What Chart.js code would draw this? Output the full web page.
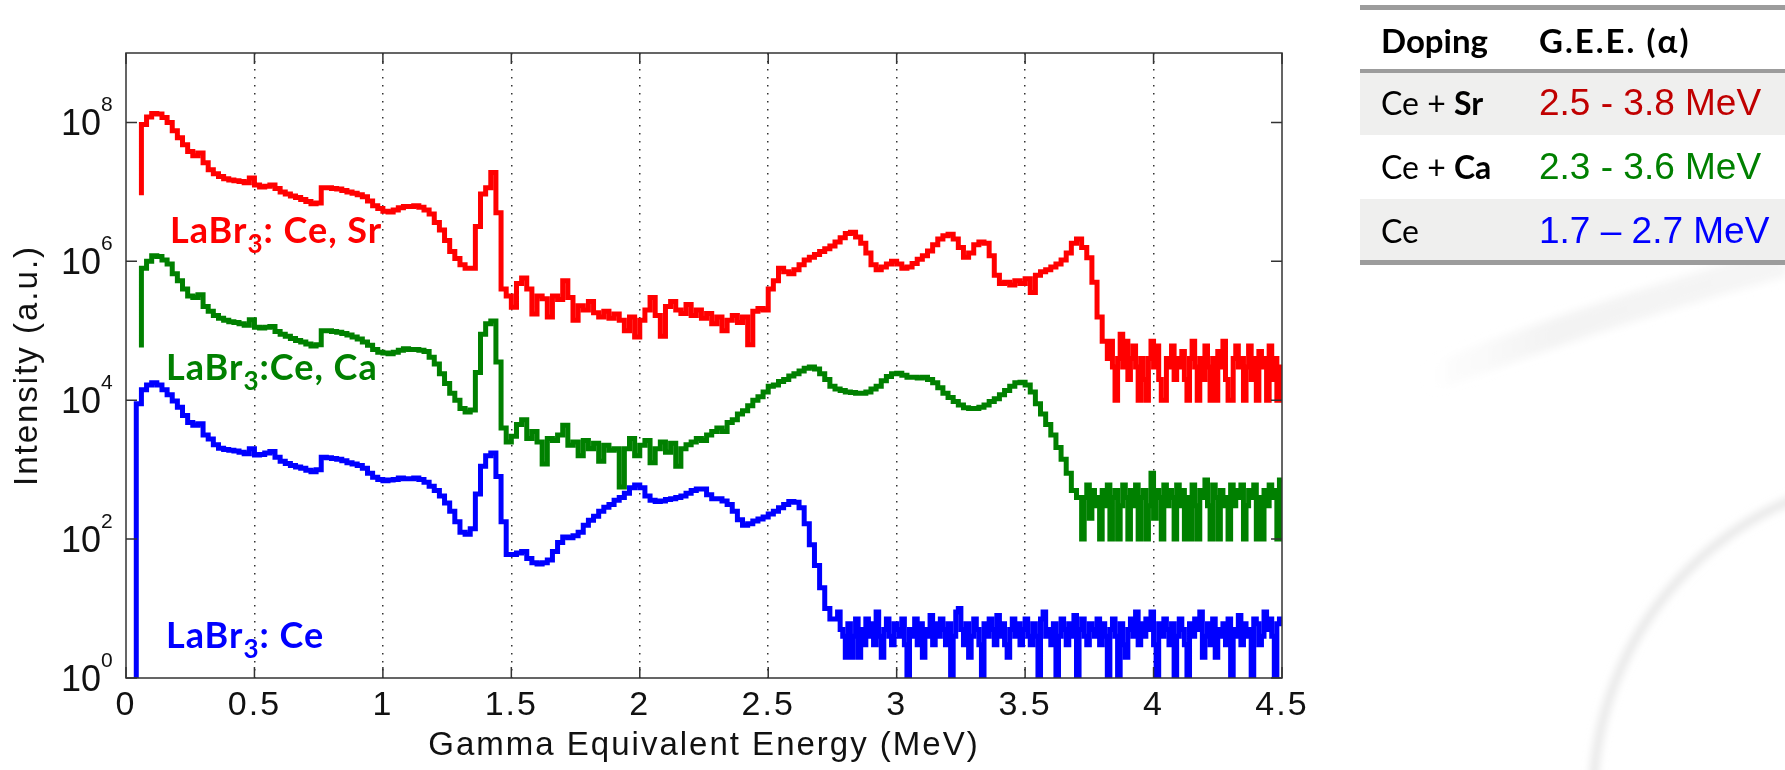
<!DOCTYPE html>
<html>
<head>
<meta charset="utf-8">
<script src="https://cdn.jsdelivr.net/npm/chart.js@4.4.1/dist/chart.umd.min.js"></script>
<style>
  html, body { margin: 0; padding: 0; background: #fff; }
  #wrap { position: relative; width: 1785px; height: 770px; overflow: hidden; }
  #deco { position: absolute; left: 0; top: 0; z-index: 0; }
  #box { position: absolute; left: 0; top: 0; width: 1785px; height: 770px; z-index: 1; }
  .lbl { position: absolute; z-index: 2; white-space: nowrap; font-family: Lato, "Open Sans", sans-serif;
         font-weight: 700; font-size: 36px; line-height: 36px; letter-spacing: 1px; }
  .lbl .s { font-size: 26px; position: relative; top: 10px; }
  #tbl { position: absolute; left: 1360px; top: 0; width: 425px; height: 270px; z-index: 2; }
  #tbl div { position: absolute; white-space: nowrap; }
  .rule { left: 0; width: 425px; background: #9c9c9c; }
  .band { left: 0; width: 425px; background: #efefee; }
  .hd { font-family: Lato, sans-serif; font-weight: 700; font-size: 33px; line-height: 33px; color: #000; }
  .c1 { left: 21px; font-family: Lato, sans-serif; font-size: 32px; line-height: 32px; color: #000; }
  .c1 b { font-weight: 700; }
  .c2 { left: 179px; font-family: "Liberation Sans", Arial, sans-serif; font-size: 37px; line-height: 37px; }
</style>
</head>
<body>
<div id="wrap">
  <svg id="deco" width="1785" height="770">
    <defs>
      <filter id="bl" x="-20%" y="-20%" width="140%" height="140%"><feGaussianBlur stdDeviation="4"/></filter>
      <linearGradient id="fade" x1="0" x2="1" y1="0" y2="0">
        <stop offset="0" stop-color="#f3f3f3" stop-opacity="0"/>
        <stop offset="0.35" stop-color="#f3f3f3" stop-opacity="1"/>
        <stop offset="1" stop-color="#f5f5f5" stop-opacity="1"/>
      </linearGradient>
    </defs>
    <circle cx="1919" cy="800" r="326" fill="none" stroke="#e2e2e2" stroke-width="7" filter="url(#bl)"/>
    <path d="M1425 380 Q1600 312 1785 262" stroke="url(#fade)" stroke-width="28" fill="none" filter="url(#bl)"/>
  </svg>
  <canvas id="box"></canvas>

  <div class="lbl" style="left:170px; top:211px; color:#ff0000">LaBr<span class="s">3</span>: Ce, Sr</div>
  <div class="lbl" style="left:166px; top:348px; color:#008000">LaBr<span class="s">3</span>:Ce, Ca</div>
  <div class="lbl" style="left:166px; top:616px; color:#0000ff">LaBr<span class="s">3</span>: Ce</div>

  <div id="tbl">
    <div class="rule" style="top:5px; height:5px"></div>
    <div class="hd" style="left:21px; top:24px">Doping</div>
    <div class="hd" style="left:179px; top:24px; letter-spacing:2px">G.E.E. (α)</div>
    <div class="rule" style="top:69px; height:4px"></div>
    <div class="band" style="top:73px; height:62px"></div>
    <div class="band" style="top:199px; height:61px"></div>
    <div class="rule" style="top:260px; height:5px"></div>
    <div class="c1" style="top:87px">Ce + <b>Sr</b></div>
    <div class="c2" style="top:84px; color:#c00000">2.5 - 3.8 MeV</div>
    <div class="c1" style="top:151px">Ce + <b>Ca</b></div>
    <div class="c2" style="top:148px; color:#008000">2.3 - 3.6 MeV</div>
    <div class="c1" style="top:215px">Ce</div>
    <div class="c2" style="top:212px; color:#0000ff">1.7 – 2.7 MeV</div>
  </div>
</div>

<script>
// log10 of intensity.
// "main" arrays: 0.02 MeV bins starting at 0 MeV (null = no data)
// "tail" arrays: 0.01 MeV bins continuing right after the last main bin up to 4.5 MeV
const logSr = [
  null, null, null, 6.95, 7.97, 8.08, 8.13, 8.12, 8.07, 8.00,   // 0.00
  7.88, 7.78, 7.68, 7.58, 7.52, 7.56, 7.42, 7.32, 7.26, 7.22,   // 0.20
  7.19, 7.17, 7.16, 7.15, 7.13, 7.20, 7.10, 7.07, 7.08, 7.10,   // 0.40
  7.05, 7.00, 6.97, 6.94, 6.92, 6.89, 6.86, 6.83, 6.84, 7.06,   // 0.60
  7.06, 7.05, 7.04, 7.02, 7.00, 6.98, 6.96, 6.93, 6.87, 6.80,   // 0.80
  6.76, 6.72, 6.71, 6.74, 6.77, 6.79, 6.79, 6.80, 6.78, 6.74,   // 1.00
  6.68, 6.56, 6.45, 6.30, 6.14, 6.04, 5.95, 5.90, 5.90, 6.50,   // 1.20
  6.97, 7.06, 7.28, 6.70, 5.60, 5.50, 5.34, 5.68, 5.76, 5.60,   // 1.40
  5.24, 5.50, 5.46, 5.20, 5.50, 5.45, 5.72, 5.48, 5.15, 5.36,   // 1.60
  5.30, 5.42, 5.26, 5.20, 5.28, 5.18, 5.24, 5.15, 5.00, 5.20,   // 1.80
  4.91, 5.15, 5.30, 5.48, 5.22, 4.92, 5.35, 5.42, 5.30, 5.25,   // 2.00
  5.38, 5.22, 5.30, 5.18, 5.25, 5.10, 5.20, 5.00, 5.15, 5.22,   // 2.20
  5.12, 5.20, 4.80, 5.28, 5.32, 5.30, 5.60, 5.72, 5.90, 5.85,   // 2.40
  5.82, 5.88, 5.95, 6.02, 6.06, 6.10, 6.14, 6.18, 6.22, 6.28,   // 2.60
  6.34, 6.40, 6.42, 6.35, 6.26, 6.12, 5.95, 5.88, 5.92, 5.96,   // 2.80
  6.00, 5.96, 5.90, 5.92, 5.97, 6.03, 6.08, 6.15, 6.24, 6.32,   // 3.00
  6.37, 6.39, 6.32, 6.20, 6.06, 6.12, 6.24, 6.28, 6.26, 6.08,   // 3.20
  5.80, 5.68, 5.70, 5.66, 5.72, 5.68, 5.75, 5.55, 5.80, 5.85,   // 3.40
  5.88, 5.92, 5.96, 6.02, 6.12, 6.26, 6.32, 6.20, 6.05, 5.70,   // 3.60
  5.20, 4.85                                                    // 3.80
];
const tailSr = [
  4.60, 4.85, 4.48, 4.00, 4.60, 4.95, 4.48, 4.85, 4.30, 4.60,   // 3.83
  4.78, 4.48, 4.00, 4.60, 4.30, 4.00, 4.60, 4.85, 4.48, 4.78,   // 3.93
  4.30, 4.00, 4.00, 4.60, 4.48, 4.78, 4.30, 4.60, 4.48, 4.70,   // 4.03
  4.30, 4.00, 4.60, 4.85, 4.48, 4.00, 4.60, 4.30, 4.78, 4.48,   // 4.13
  4.00, 4.60, 4.00, 4.70, 4.48, 4.85, 4.30, 4.00, 4.00, 4.60,   // 4.23
  4.78, 4.48, 4.60, 4.00, 4.48, 4.78, 4.30, 4.60, 4.00, 4.70,   // 4.33
  4.48, 4.60, 4.00, 4.78, 4.30, 4.60, 4.00, 4.48                // 4.43
];

const logCa = [
  null, null, null, 4.76, 5.90, 6.00, 6.08, 6.07, 6.02, 5.96,   // 0.00
  5.82, 5.72, 5.60, 5.50, 5.48, 5.52, 5.35, 5.28, 5.22, 5.18,   // 0.20
  5.15, 5.13, 5.12, 5.10, 5.08, 5.16, 5.05, 5.04, 5.05, 5.06,   // 0.40
  4.99, 4.95, 4.92, 4.89, 4.86, 4.84, 4.81, 4.78, 4.80, 5.00,   // 0.60
  5.00, 4.99, 4.98, 4.96, 4.94, 4.91, 4.88, 4.84, 4.79, 4.73,   // 0.80
  4.69, 4.68, 4.67, 4.69, 4.72, 4.74, 4.73, 4.73, 4.72, 4.70,   // 1.00
  4.62, 4.52, 4.38, 4.24, 4.10, 4.00, 3.88, 3.83, 3.86, 4.40,   // 1.20
  4.95, 5.10, 5.14, 4.55, 3.60, 3.40, 3.48, 3.65, 3.72, 3.45,   // 1.40
  3.55, 3.40, 3.08, 3.45, 3.42, 3.50, 3.64, 3.35, 3.40, 3.20,   // 1.60
  3.42, 3.30, 3.38, 3.12, 3.35, 3.28, 3.30, 2.75, 3.30, 3.45,   // 1.80
  3.20, 3.35, 3.42, 3.10, 3.30, 3.40, 3.25, 3.38, 3.05, 3.30,   // 2.00
  3.36, 3.40, 3.45, 3.42, 3.50, 3.55, 3.60, 3.55, 3.68, 3.72,   // 2.20
  3.80, 3.85, 3.92, 4.00, 4.05, 4.12, 4.20, 4.22, 4.27, 4.30,   // 2.40
  4.35, 4.38, 4.42, 4.46, 4.48, 4.45, 4.38, 4.30, 4.20, 4.16,   // 2.60
  4.14, 4.12, 4.11, 4.10, 4.10, 4.12, 4.16, 4.20, 4.28, 4.34,   // 2.80
  4.38, 4.39, 4.36, 4.33, 4.33, 4.32, 4.33, 4.30, 4.25, 4.18,   // 3.00
  4.10, 4.04, 3.98, 3.93, 3.89, 3.88, 3.88, 3.90, 3.93, 3.98,   // 3.20
  4.02, 4.08, 4.14, 4.20, 4.25, 4.26, 4.22, 4.12, 3.95, 3.80,   // 3.40
  3.65, 3.50, 3.32, 3.15, 2.95, 2.70, 2.60                      // 3.60
];
const tailCa = [
  2.00, 2.60, 2.78, 2.30, 2.70, 2.48, 2.60, 2.00, 2.70, 2.48,   // 3.73
  2.78, 2.00, 2.60, 2.70, 2.00, 2.48, 2.78, 2.60, 2.00, 2.70,   // 3.83
  2.48, 2.78, 2.00, 2.60, 2.70, 2.00, 2.48, 2.95, 2.30, 2.70,   // 3.93
  2.60, 2.00, 2.78, 2.48, 2.70, 2.60, 2.00, 2.78, 2.48, 2.70,   // 4.03
  2.00, 2.60, 2.00, 2.78, 2.48, 2.00, 2.70, 2.60, 2.85, 2.48,   // 4.13
  2.00, 2.78, 2.60, 2.00, 2.70, 2.48, 2.60, 2.00, 2.78, 2.48,   // 4.23
  2.70, 2.60, 2.78, 2.00, 2.48, 2.70, 2.60, 2.78, 2.00, 2.60,   // 4.33
  2.00, 2.70, 2.48, 2.78, 2.60, 2.70, 2.00, 2.85                // 4.43
];

const logCe = [
  null, null, -1, 3.95, 4.15, 4.22, 4.25, 4.22, 4.15, 4.08,     // 0.00
  3.99, 3.90, 3.78, 3.68, 3.64, 3.66, 3.50, 3.44, 3.36, 3.31,   // 0.20
  3.29, 3.28, 3.27, 3.25, 3.23, 3.30, 3.21, 3.22, 3.24, 3.26,   // 0.40
  3.18, 3.12, 3.09, 3.06, 3.04, 3.02, 2.99, 2.97, 3.00, 3.18,   // 0.60
  3.17, 3.16, 3.15, 3.13, 3.10, 3.08, 3.06, 3.02, 2.95, 2.89,   // 0.80
  2.86, 2.84, 2.85, 2.86, 2.88, 2.87, 2.87, 2.88, 2.86, 2.82,   // 1.00
  2.76, 2.70, 2.62, 2.52, 2.40, 2.25, 2.10, 2.07, 2.15, 2.65,   // 1.20
  3.05, 3.20, 3.24, 2.90, 2.25, 1.78, 1.78, 1.80, 1.82, 1.72,   // 1.40
  1.66, 1.64, 1.66, 1.70, 1.82, 1.95, 2.03, 2.02, 2.05, 2.10,   // 1.60
  2.20, 2.27, 2.33, 2.40, 2.46, 2.50, 2.56, 2.60, 2.66, 2.74,   // 1.80
  2.78, 2.74, 2.62, 2.56, 2.54, 2.55, 2.57, 2.58, 2.60, 2.62,   // 2.00
  2.66, 2.70, 2.72, 2.72, 2.64, 2.58, 2.58, 2.55, 2.50, 2.40,   // 2.20
  2.28, 2.20, 2.22, 2.26, 2.29, 2.32, 2.36, 2.40, 2.45, 2.50,   // 2.40
  2.54, 2.53, 2.45, 2.22, 1.92, 1.62, 1.30, 1.00, 0.85          // 2.60
];
const tailCe = [
  0.85, 0.95, 0.70, 0.60, 0.30, 0.78, 0.30, 0.60, 0.85, 0.30,   // 2.77
  0.70, 0.48, 0.85, 0.60, 0.78, 0.48, 0.95, 0.60, 0.30, 0.70,   // 2.87
  0.85, 0.60, 0.48, 0.78, 0.70, 0.60, 0.85, 0.48, 0.00, 0.70,   // 2.97
  0.60, 0.85, 0.48, 0.78, 0.30, 0.70, 0.60, 0.90, 0.48, 0.78,   // 3.07
  0.60, 0.85, 0.70, 0.48, 0.78, 0.00, 0.60, 0.95, 1.00, 0.70,   // 3.17
  0.48, 0.78, 0.30, 0.60, 0.85, 0.70, 0.48, 0.00, 0.78, 0.60,   // 3.27
  0.85, 0.70, 0.48, 0.90, 0.60, 0.78, 0.48, 0.30, 0.70, 0.85,   // 3.37
  0.60, 0.78, 0.48, 0.70, 0.85, 0.60, 0.48, 0.78, 0.60, 0.00,   // 3.47
  0.85, 0.95, 0.60, 0.70, 0.48, 0.78, 0.00, 0.60, 0.85, 0.70,   // 3.57
  0.48, 0.78, 0.60, 0.90, 0.00, 0.70, 0.85, 0.60, 0.48, 0.78,   // 3.67
  0.70, 0.60, 0.85, 0.48, 0.78, 0.60, 0.00, 0.70, 0.85, 0.60,   // 3.77
  0.00, 0.78, 0.48, 0.30, 0.70, 0.85, 0.60, 0.95, 0.48, 0.78,   // 3.87
  0.60, 0.85, 0.70, 0.95, 0.48, 0.00, 0.78, 0.60, 0.85, 0.70,   // 3.97
  0.48, 0.78, 0.00, 0.60, 0.85, 0.70, 0.48, 0.00, 0.78, 0.60,   // 4.07
  0.85, 0.70, 0.95, 0.30, 0.60, 0.78, 0.48, 0.85, 0.30, 0.70,   // 4.17
  0.60, 0.78, 0.48, 0.85, 0.00, 0.70, 0.60, 0.90, 0.48, 0.78,   // 4.27
  0.60, 0.70, 0.00, 0.85, 0.78, 0.48, 0.60, 0.95, 0.70, 0.85,   // 4.37
  0.60, 0.00, 0.78, 0.85                                        // 4.47
];

const seriesNames = ['LaBr3: Ce, Sr', 'LaBr3:Ce, Ca', 'LaBr3: Ce'];
const seriesColors = ['#ff0000', '#008000', '#0000ff'];

const xTickValues = [0, 0.5, 1, 1.5, 2, 2.5, 3, 3.5, 4, 4.5];
const xTickLabels = ['0', '0.5', '1', '1.5', '2', '2.5', '3', '3.5', '4', '4.5'];
const yTickPowers = [0, 2, 4, 6, 8];

// energies in hundredths of MeV to keep the bin edges exact
function spectrum(main, tail) {
  const pts = main.map((v, i) => ({ x: (i * 2) / 100, y: v === null ? null : Math.pow(10, v) }));
  const last = (main.length - 1) * 2;
  tail.forEach((v, j) => pts.push({ x: (last + j + 1) / 100, y: Math.pow(10, v) }));
  return pts;
}
const spectra = [spectrum(logSr, tailSr), spectrum(logCa, tailCa), spectrum(logCe, tailCe)];

// box, inward tick marks and 10^n labels like the matlab axes
const axesBox = {
  id: 'axesBox',
  beforeDraw(chart) {
    chart.ctx.letterSpacing = '2px';
  },
  afterDraw(chart) {
    const { ctx, chartArea: a, scales: { x, y } } = chart;
    ctx.save();
    ctx.letterSpacing = '0px';
    ctx.strokeStyle = '#333';
    ctx.lineWidth = 1.5;
    ctx.strokeRect(a.left, a.top, a.right - a.left, a.bottom - a.top);
    ctx.beginPath();
    x.ticks.forEach(t => {
      const px = x.getPixelForValue(t.value);
      ctx.moveTo(px, a.bottom); ctx.lineTo(px, a.bottom - 11);
      ctx.moveTo(px, a.top); ctx.lineTo(px, a.top + 11);
    });
    y.ticks.forEach(t => {
      const py = y.getPixelForValue(t.value);
      ctx.moveTo(a.left, py); ctx.lineTo(a.left + 11, py);
      ctx.moveTo(a.right, py); ctx.lineTo(a.right - 11, py);
    });
    ctx.stroke();

    ctx.fillStyle = '#111';
    ctx.textBaseline = 'alphabetic';
    y.ticks.forEach((t, i) => {
      const py = y.getPixelForValue(t.value);
      ctx.font = '36px "Liberation Sans", Arial, sans-serif';
      ctx.textAlign = 'right';
      ctx.fillText('10', 101, py + 13);
      ctx.font = '21px "Liberation Sans", Arial, sans-serif';
      ctx.textAlign = 'left';
      ctx.fillText(String(yTickPowers[i]), 101, py - 11);
    });
    ctx.restore();
  }
};

new Chart(document.getElementById('box'), {
  type: 'line',
  data: {
    datasets: spectra.map((pts, k) => ({
      label: seriesNames[k],
      data: pts,
      borderColor: seriesColors[k],
      backgroundColor: seriesColors[k],
      borderWidth: 5,
      borderJoinStyle: 'miter',
      stepped: 'after',
      pointRadius: 0,
      fill: false,
      spanGaps: false
    }))
  },
  options: {
    responsive: true,
    maintainAspectRatio: false,
    animation: false,
    events: [],
    layout: { padding: { top: 53, right: 503, bottom: 0, left: 0 } },
    plugins: { legend: { display: false }, tooltip: { enabled: false } },
    scales: {
      x: {
        type: 'linear',
        min: 0,
        max: 4.5,
        afterBuildTicks: s => { s.ticks = xTickValues.map(v => ({ value: v })); },
        afterFit: s => { s.height = 92; },
        grid: {
          color: c => (c.tick && (c.tick.value === 0 || c.tick.value === 4.5)) ? 'rgba(0,0,0,0)' : '#333',
          lineWidth: 1.5,
          drawTicks: false
        },
        border: { display: false, dash: [1.5, 6.5] },
        ticks: {
          autoSkip: false,
          maxRotation: 0,
          padding: 7,
          color: '#111',
          font: { family: '"Liberation Sans", Arial, sans-serif', size: 34 },
          callback: (v, i) => xTickLabels[i]
        },
        title: {
          display: true,
          text: 'Gamma Equivalent Energy (MeV)',
          color: '#111',
          font: { family: '"Liberation Sans", Arial, sans-serif', size: 33 },
          padding: { top: 0, bottom: 4 }
        }
      },
      y: {
        type: 'logarithmic',
        min: 1,
        max: 1e9,
        afterBuildTicks: s => { s.ticks = yTickPowers.map(p => ({ value: Math.pow(10, p) })); },
        afterFit: s => { s.width = 126; },
        grid: { display: false },
        border: { display: false },
        ticks: { display: false },
        title: {
          display: true,
          text: 'Intensity (a.u.)',
          color: '#111',
          font: { family: '"Liberation Sans", Arial, sans-serif', size: 33 },
          padding: { top: 8, bottom: 0 }
        }
      }
    }
  },
  plugins: [axesBox]
});
</script>
</body>
</html>
